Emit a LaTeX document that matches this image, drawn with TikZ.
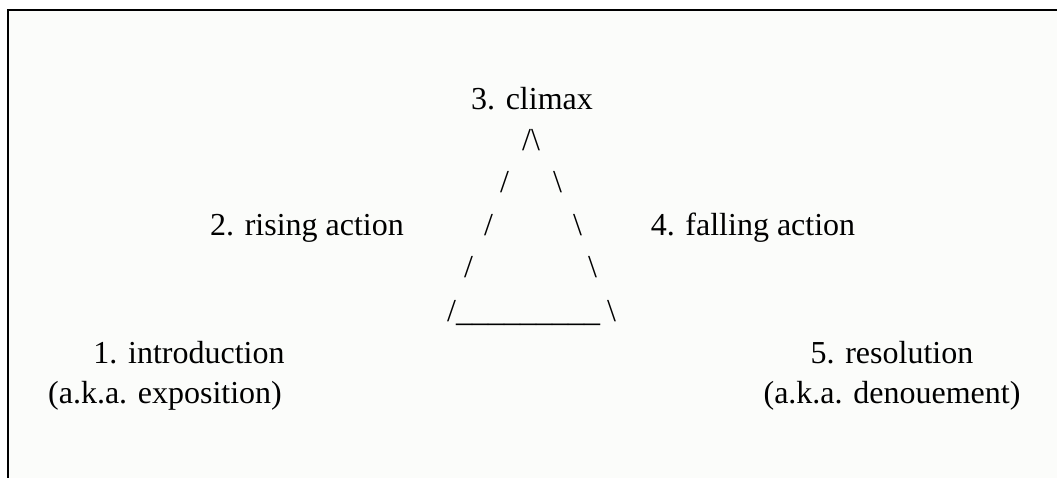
\documentclass[tikz,border=0pt]{standalone}
\usepackage{fontspec}
\setmainfont{Liberation Serif}
\definecolor{bgtint}{RGB}{251,252,250}
\begin{document}
\begin{tikzpicture}[x=1pt,y=-1pt,
  lbl/.style={inner sep=0pt, anchor=base, font=\fontsize{32}{38}\selectfont},
  glyph/.style={inner sep=0pt, anchor=base west, font=\fontsize{32}{38}\selectfont}]
\useasboundingbox (0,0) rectangle (1057,478);
\fill[bgtint] (8,10) rectangle (1057,478);
\draw[line width=2pt] (8,478) -- (8,10) -- (1057,10);
% labels
\node[lbl] (climax) at (532,110) {3. climax};
\node[lbl] (rising) at (307,236) {2. rising action};
\node[lbl] (falling) at (753,236) {4. falling action};
\node[lbl] (intro) at (189,363) {1. introduction};
\node[lbl] (introb) at (165,403) {(a.k.a. exposition)};
\node[lbl] (resol) at (892,363) {5. resolution};
\node[lbl] (resolb) at (892,403) {(a.k.a. denouement)};
% ASCII triangle
\node[glyph] (apex) at (522,151) {/\textbackslash};
\node[glyph] (l2) at (500,193) {/};
\node[glyph] (r2) at (553,193) {\textbackslash};
\node[glyph] (l3) at (484,236) {/};
\node[glyph] (r3) at (573,236) {\textbackslash};
\node[glyph] (l4) at (464,278) {/};
\node[glyph] (r4) at (588,278) {\textbackslash};
\node[glyph] (l5) at (447,321) {/\_\_\_\_\_\_\_\_\_};
\node[glyph] (r5) at (607,321) {\textbackslash};
\end{tikzpicture}
\end{document}
